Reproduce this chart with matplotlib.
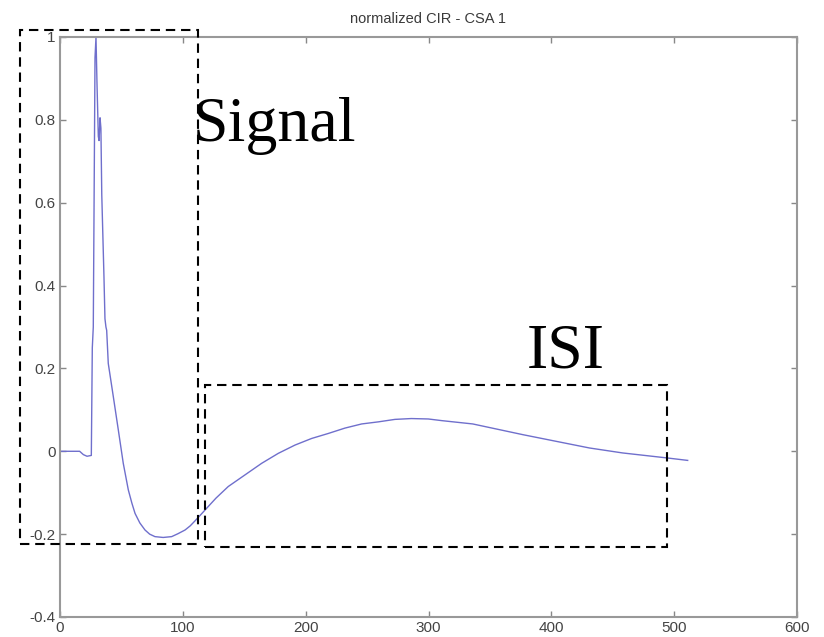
import matplotlib
matplotlib.use("Agg")
import matplotlib.pyplot as plt
from matplotlib.patches import Rectangle
from matplotlib.ticker import FuncFormatter

# ---- data ----
sample = [0, 16, 19, 22, 25.5, 26.3, 27.1, 28.5, 29.3, 30.1, 31.2, 31.8, 32.6, 33.3,
          34.0, 35.8, 36.6, 37.4, 38.0, 39.3, 43.4, 47.5, 51.5, 55.6, 58.5, 61.1,
          65, 69.2, 73, 77.3, 84, 90.9, 96, 101.8, 106, 109.9, 114, 118.0, 127,
          137.0, 150.6, 164.2, 177.7, 191.3, 204.9, 218.4, 232.0, 245.6, 259.1,
          272.7, 286, 299.8, 310.8, 336, 377, 431, 458, 494, 511]
cir = [0, 0, -0.008, -0.012, -0.01, 0.25, 0.30, 0.95, 1.0, 0.89, 0.76, 0.75, 0.805, 0.78,
       0.62, 0.42, 0.32, 0.30, 0.292, 0.212, 0.132, 0.051, -0.029, -0.093, -0.125,
       -0.150, -0.173, -0.19, -0.200, -0.206, -0.208, -0.206, -0.199, -0.19, -0.18,
       -0.168, -0.155, -0.142, -0.113, -0.085, -0.057, -0.029, -0.005, 0.015, 0.031,
       0.043, 0.056, 0.066, 0.071, 0.077, 0.079, 0.078, 0.074, 0.066, 0.040, 0.008,
       -0.004, -0.016, -0.022]
xticks = [0, 100, 200, 300, 400, 500, 600]
yticks = [-0.4, -0.2, 0, 0.2, 0.4, 0.6, 0.8, 1]
title = "normalized CIR - CSA 1"
labels = ["Signal", "ISI"]

W, H = 824, 637
fig = plt.figure(figsize=(W / 100, H / 100), dpi=100)
ax = fig.add_axes([60 / W, 1 - 617 / H, (797 - 60) / W, (617 - 37) / H])

ax.plot(sample, cir, color="#6f6fcc", lw=1.0, solid_joinstyle="round")

ax.set_xlim(0, 600)
ax.set_ylim(-0.4, 1)
ax.set_xticks(xticks)
ax.set_yticks(yticks)
fmt = FuncFormatter(lambda v, p: ("%g" % round(v, 2)))
ax.xaxis.set_major_formatter(fmt)
ax.yaxis.set_major_formatter(fmt)
ax.tick_params(direction="in", top=True, right=True, length=4, width=1,
               color="#888888", labelcolor="#444444", labelsize=11, pad=3)
for lab in ax.get_xticklabels() + ax.get_yticklabels():
    lab.set_family(["Liberation Sans", "DejaVu Sans"])
for s in ax.spines.values():
    s.set_color("#999999")
    s.set_linewidth(1.5)
ax.set_title(title, fontsize=10.5, color="#3a3a3a", pad=10,
             family=["Liberation Sans", "DejaVu Sans"])

# dashed annotation boxes (figure pixel coordinates)
def px_rect(x0, y0, x1, y1):
    r = Rectangle((x0 / W, 1 - y1 / H), (x1 - x0) / W, (y1 - y0) / H,
                  transform=fig.transFigure, fill=False, edgecolor="black",
                  lw=1.5, linestyle=(0, (4.5, 2.8)), clip_on=False, zorder=5)
    fig.add_artist(r)

px_rect(20, 30, 198, 544)
px_rect(205, 385, 667, 547)

fig.text(193 / W, 1 - 141 / H, labels[0], family=["Liberation Serif", "DejaVu Serif"],
         fontsize=46, color="black", ha="left", va="baseline")
fig.text(527 / W, 1 - 367 / H, labels[1], family=["Liberation Serif", "DejaVu Serif"],
         fontsize=46, color="black", ha="left", va="baseline")

fig.savefig("out.png", dpi=100)
